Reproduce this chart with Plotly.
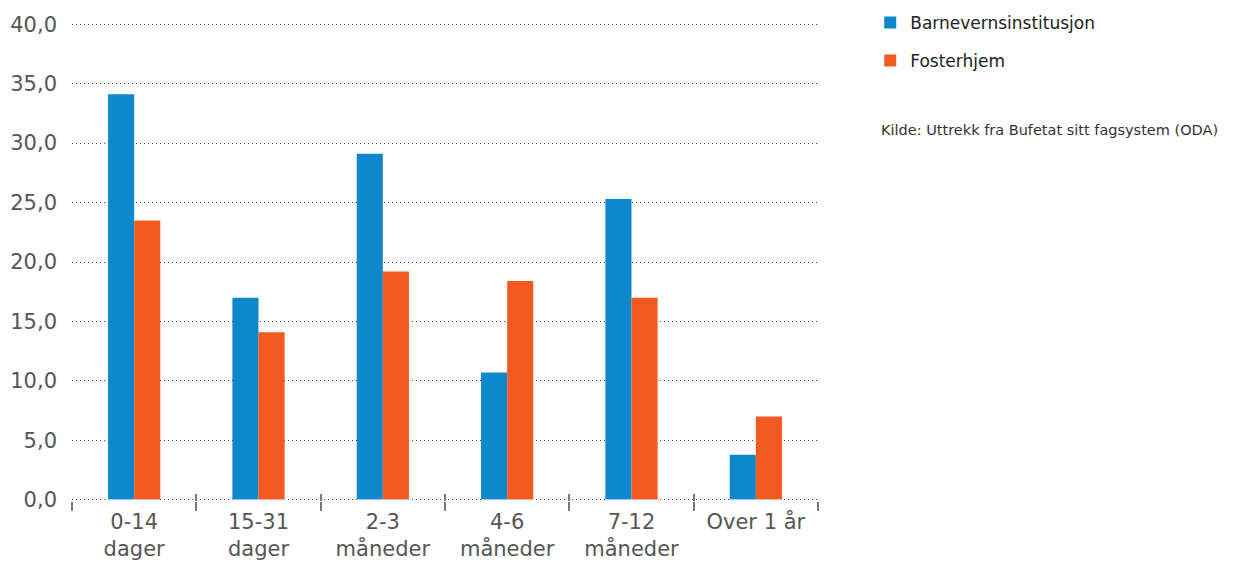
import plotly.graph_objects as go

categories = ["0-14<br>dager", "15-31<br>dager", "2-3<br>måneder",
              "4-6<br>måneder", "7-12<br>måneder", "Over 1 år"]
institusjon = [34.1, 17.0, 29.1, 10.7, 25.3, 3.8]
fosterhjem = [23.5, 14.1, 19.2, 18.4, 17.0, 7.0]
y_ticks = [0, 5, 10, 15, 20, 25, 30, 35, 40]

BLUE = "#0E88CC"
ORANGE = "#F25A22"
FONT = "'DejaVu Sans', sans-serif"

fig = go.Figure()
fig.add_trace(go.Bar(x=categories, y=institusjon, name="Barnevernsinstitusjon",
                     marker=dict(color=BLUE, line=dict(width=0)), legendgroup="a"))
fig.add_trace(go.Bar(x=categories, y=fosterhjem, name="Fosterhjem",
                     marker=dict(color=ORANGE, line=dict(width=0)), legendgroup="b"))

fig.update_layout(
    width=1235, height=562,
    margin=dict(l=72, r=417, t=23, b=61, autoexpand=False),
    plot_bgcolor="white", paper_bgcolor="white",
    barmode="group", bargap=0.58, bargroupgap=0,
    separators=", ",
    font=dict(family=FONT, color="#555555"),
    showlegend=True,
    legend=dict(x=1.07, y=1.038, xanchor="left", yanchor="top",
                font=dict(size=17, color="#222222"),
                tracegroupgap=13, itemsizing="constant"),
    xaxis=dict(type="category", categoryorder="array", categoryarray=categories,
               ticks="outside", tickson="boundaries", ticklen=9, tickwidth=1.5,
               tickcolor="#777777", showgrid=False, showline=False,
               automargin=False, ticklabelstandoff=6,
               tickfont=dict(size=21, color="#555555")),
    xaxis2=dict(type="category", categoryorder="array", categoryarray=categories,
                overlaying="x", matches="x", anchor="y", side="bottom",
                ticks="inside", tickson="boundaries", ticklen=7, tickwidth=1.5,
                tickcolor="#777777", showticklabels=False, showgrid=False,
                showline=False, automargin=False),
    yaxis=dict(range=[-0.1, 40.1], tickvals=y_ticks, tickformat=".1f",
               showgrid=True, gridcolor="#444444", griddash="1px,3px", gridwidth=1,
               zeroline=False, showline=False, ticks="",
               ticklabelstandoff=14, automargin=False,
               tickfont=dict(size=21, color="#555555")),
    annotations=[dict(text="Kilde: Uttrekk fra Bufetat sitt fagsystem (ODA)",
                      xref="paper", yref="paper", x=1.082, y=0.777,
                      xanchor="left", yanchor="middle", showarrow=False,
                      font=dict(size=14.5, color="#333333"))],
)

# invisible trace to activate the inner-tick axis
fig.add_trace(go.Bar(x=categories, y=[0] * len(categories), xaxis="x2",
                     showlegend=False, hoverinfo="skip",
                     marker=dict(color="rgba(0,0,0,0)")))

fig.write_html("out.html")
